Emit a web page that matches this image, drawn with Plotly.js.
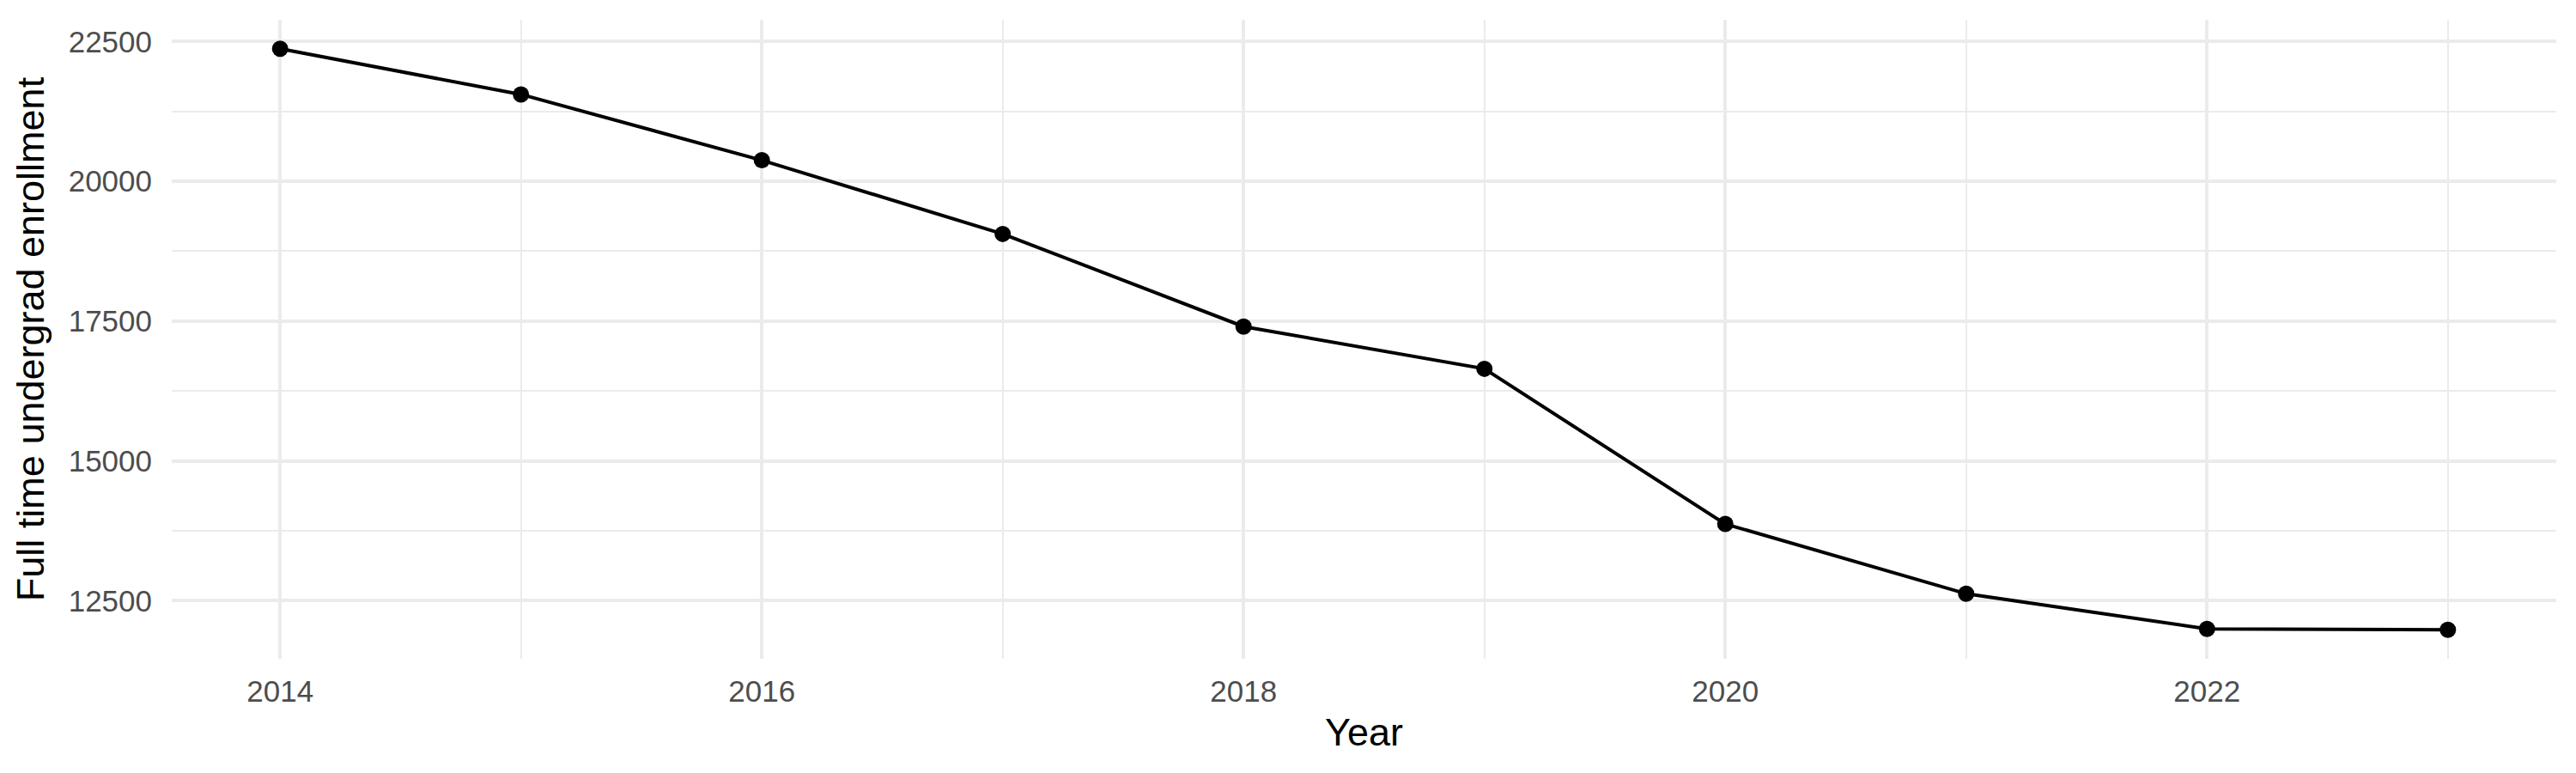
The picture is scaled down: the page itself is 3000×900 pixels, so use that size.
<!DOCTYPE html>
<html>
<head>
<meta charset="utf-8">
<script src="https://cdn.plot.ly/plotly-3.0.1.min.js"></script>
<style>html,body{margin:0;padding:0;background:#fff;}#chart{width:3000px;height:900px;}</style>
</head>
<body>
<div id="chart"></div>
<script>
const years = [2014, 2015, 2016, 2017, 2018, 2019, 2020, 2021, 2022, 2023];
const enrollment = [22370, 21554, 20377, 19058, 17402, 16646, 13870, 12623, 11994, 11979];
const xTickVals = [2014, 2016, 2018, 2020, 2022];
const xTickText = ["2014", "2016", "2018", "2020", "2022"];
const yTickVals = [12500, 15000, 17500, 20000, 22500];
const yTickText = ["12500", "15000", "17500", "20000", "22500"];
const xTitle = "Year";
const yTitle = "Full time undergrad enrollment";

const FONT = "Liberation Sans, Arial, Helvetica, sans-serif";
const GRID = "#EBEBEB";

// ggplot-like 5% expansion of the data range
const xMin = Math.min(...years), xMax = Math.max(...years);
const yMin = Math.min(...enrollment), yMax = Math.max(...enrollment);
const xPad = (xMax - xMin) * 0.05, yPad = (yMax - yMin) * 0.05;

const trace = {
  x: years,
  y: enrollment,
  type: "scatter",
  mode: "lines+markers",
  line: {color: "#000000", width: 4},
  marker: {color: "#000000", size: 19},
  hoverinfo: "x+y",
  showlegend: false
};

const layout = {
  width: 3000,
  height: 900,
  paper_bgcolor: "#ffffff",
  plot_bgcolor: "#ffffff",
  margin: {l: 200, r: 23, t: 23, b: 133, pad: 0},
  font: {family: FONT, color: "#000000"},
  showlegend: false,
  xaxis: {
    range: [xMin - xPad, xMax + xPad],
    tickmode: "array",
    tickvals: xTickVals,
    ticktext: xTickText,
    ticks: "outside",
    ticklen: 7,
    tickcolor: "rgba(0,0,0,0)",
    tickfont: {family: FONT, size: 35, color: "#4D4D4D"},
    showgrid: true,
    gridcolor: GRID,
    gridwidth: 4,
    minor: {dtick: 1, tick0: 2015, showgrid: true, gridcolor: GRID, gridwidth: 2, ticks: ""},
    zeroline: false,
    showline: false,
    title: {text: xTitle, font: {family: FONT, size: 45, color: "#000000"}, standoff: 13}
  },
  yaxis: {
    range: [yMin - yPad, yMax + yPad],
    tickmode: "array",
    tickvals: yTickVals,
    ticktext: yTickText,
    ticks: "outside",
    ticklen: 15,
    tickcolor: "rgba(0,0,0,0)",
    tickfont: {family: FONT, size: 35, color: "#4D4D4D"},
    showgrid: true,
    gridcolor: GRID,
    gridwidth: 4,
    minor: {dtick: 1250, tick0: 11250, showgrid: true, gridcolor: GRID, gridwidth: 2, ticks: ""},
    zeroline: false,
    showline: false,
    title: {text: yTitle, font: {family: FONT, size: 45, color: "#000000"}, standoff: 13}
  }
};

Plotly.newPlot("chart", [trace], layout, {displayModeBar: false, staticPlot: true});
</script>
</body>
</html>
